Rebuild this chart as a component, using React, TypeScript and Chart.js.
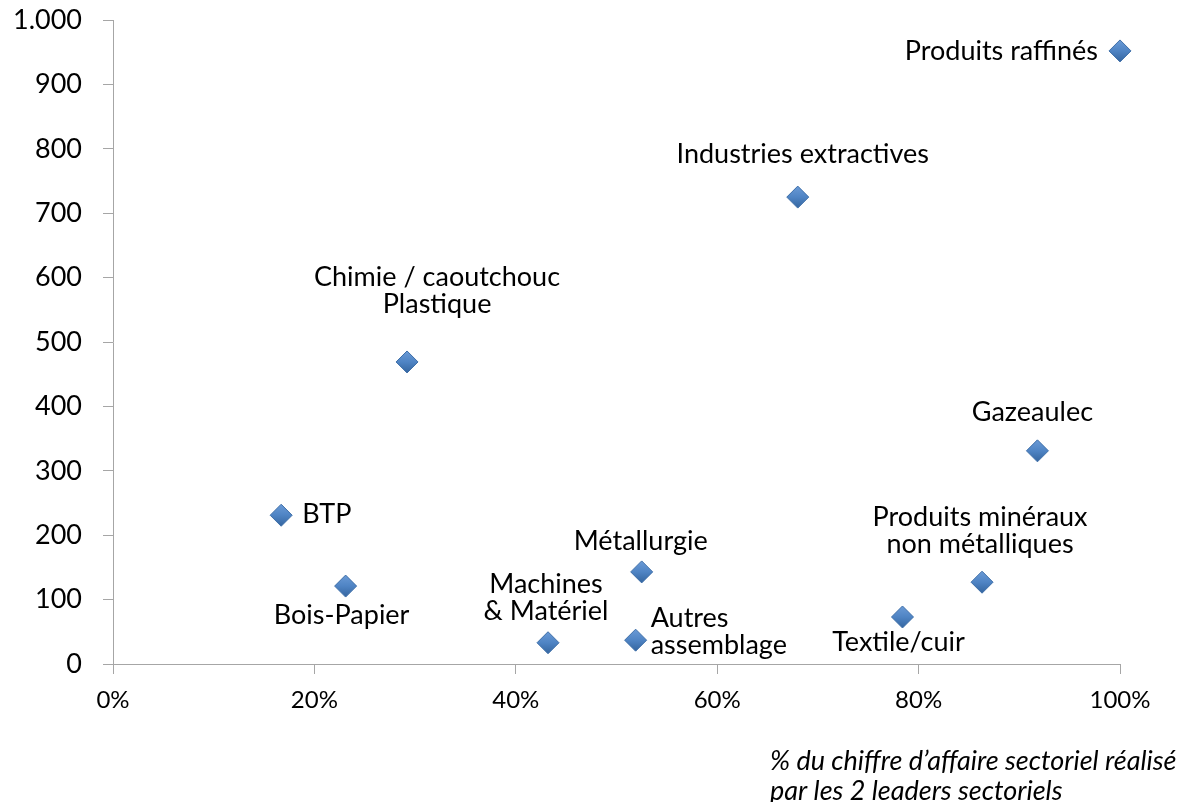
import React, { useEffect, useRef } from 'react';
import { Chart, registerables } from 'chart.js';

Chart.register(...registerables);

// ---- Data ----
const sectors = [
  'Produits raffinés',
  'Industries extractives',
  'Chimie / caoutchouc\nPlastique',
  'Gazeaulec',
  'BTP',
  'Bois-Papier',
  'Machines\n& Matériel',
  'Métallurgie',
  'Autres\nassemblage',
  'Textile/cuir',
  'Produits minéraux\nnon métalliques',
];
const leaderShare = [100, 68.0, 29.2, 91.8, 16.7, 23.1, 43.2, 52.5, 51.9, 78.4, 86.3];
const sectorValue = [952, 725, 469, 331, 231, 121, 33, 143, 37, 73, 127];
const xTickLabels = ['0%', '20%', '40%', '60%', '80%', '100%'];
const yTickLabels = ['0', '100', '200', '300', '400', '500', '600', '700', '800', '900', '1.000'];
const axisTitleLines = ['% du chiffre d’affaire sectoriel réalisé', 'par les 2 leaders sectoriels'];

// ---- Label placement (presentation only) ----
const labelPlacement: { align: CanvasTextAlign; dx: number; dy: number }[] = [
  { align: 'right', dx: -22, dy: 0 },
  { align: 'center', dx: 5, dy: -43 },
  { align: 'center', dx: 30, dy: -85 },
  { align: 'center', dx: -5, dy: -39 },
  { align: 'left', dx: 21, dy: -1 },
  { align: 'center', dx: -4, dy: 29 },
  { align: 'center', dx: -2, dy: -58 },
  { align: 'center', dx: -1, dy: -31 },
  { align: 'left', dx: 15, dy: -22 },
  { align: 'center', dx: -4, dy: 25 },
  { align: 'center', dx: -2, dy: -65 },
];

const FONT = 'Lato, "Open Sans", sans-serif';
const LABEL_SIZE = 27;
const LINE_H = 27;
const AXIS_COLOR = '#a6a6a6';

const labelPlugin = {
  id: 'pointLabels',
  afterDatasetsDraw(chart: any) {
    const ctx = chart.ctx;
    const meta = chart.getDatasetMeta(0);
    ctx.save();
    ctx.fillStyle = '#000';
    ctx.textBaseline = 'middle';
    ctx.font = `${LABEL_SIZE}px ${FONT}`;
    meta.data.forEach((el: any, i: number) => {
      const p = labelPlacement[i];
      ctx.textAlign = p.align;
      sectors[i].split('\n').forEach((line, k) => {
        ctx.fillText(line, el.x + p.dx, el.y + p.dy + k * LINE_H);
      });
    });
    // axis title
    ctx.font = `italic 27px ${FONT}`;
    ctx.textAlign = 'left';
    axisTitleLines.forEach((line, k) => {
      ctx.fillText(line, 770, 761 + k * 30);
    });
    ctx.restore();
  },
};

export default function App() {
  const ref = useRef<HTMLCanvasElement | null>(null);

  useEffect(() => {
    if (!ref.current) return;
    const chart = new Chart(ref.current, {
      type: 'scatter',
      data: {
        datasets: [
          {
            data: leaderShare.map((x, i) => ({ x, y: sectorValue[i] })),
            clip: false,
            pointStyle: 'rectRot',
            pointRadius: 11,
            pointHoverRadius: 11,
            borderWidth: 1,
            borderColor: '#3d6ea8',
            backgroundColor: (c: any) => {
              const chart = c.chart;
              const ys = chart.scales && chart.scales.y;
              if (!ys || c.type !== 'data' || !c.parsed) return '#4f81bd';
              const py = ys.getPixelForValue(c.parsed.y);
              if (!Number.isFinite(py)) return '#4f81bd';
              const g = chart.ctx.createLinearGradient(0, py - 11, 0, py + 11);
              g.addColorStop(0, '#6a9ad6');
              g.addColorStop(0.5, '#4f84c4');
              g.addColorStop(1, '#34659f');
              return g;
            },
          },
        ],
      },
      options: {
        animation: false,
        responsive: false,
        layout: { padding: { top: 20, right: 57, left: 0, bottom: 0 } },
        plugins: { legend: { display: false }, tooltip: { enabled: false } },
        scales: {
          x: {
            type: 'linear',
            min: 0,
            max: 100,
            ticks: {
              stepSize: 20,
              padding: 12,
              color: '#000',
              font: { family: FONT, size: 24 },
              callback: (_v: any, i: number) => xTickLabels[i],
              maxRotation: 0,
            },
            grid: { drawOnChartArea: false, drawTicks: true, tickLength: 10, color: AXIS_COLOR },
            border: { display: true, color: AXIS_COLOR, width: 1 },
            afterFit: (s: any) => {
              s.height = 138;
              s.paddingLeft = 0;
              s.paddingRight = 0;
            },
          },
          y: {
            type: 'linear',
            min: 0,
            max: 1000,
            ticks: {
              stepSize: 100,
              padding: 21,
              color: '#000',
              font: { family: FONT, size: 27 },
              callback: (_v: any, i: number) => yTickLabels[i],
            },
            grid: { drawOnChartArea: false, drawTicks: true, tickLength: 10, color: AXIS_COLOR },
            border: { display: true, color: AXIS_COLOR, width: 1 },
            afterFit: (s: any) => {
              s.width = 113;
              s.paddingTop = 0;
              s.paddingBottom = 0;
            },
          },
        },
      },
      plugins: [labelPlugin],
    });
    return () => chart.destroy();
  }, []);

  return (
    <div style={{ position: 'fixed', left: 0, top: 0, width: 1177, height: 802, background: '#fff' }}>
      <canvas ref={ref} width={1177} height={802} style={{ display: 'block' }} />
    </div>
  );
}
